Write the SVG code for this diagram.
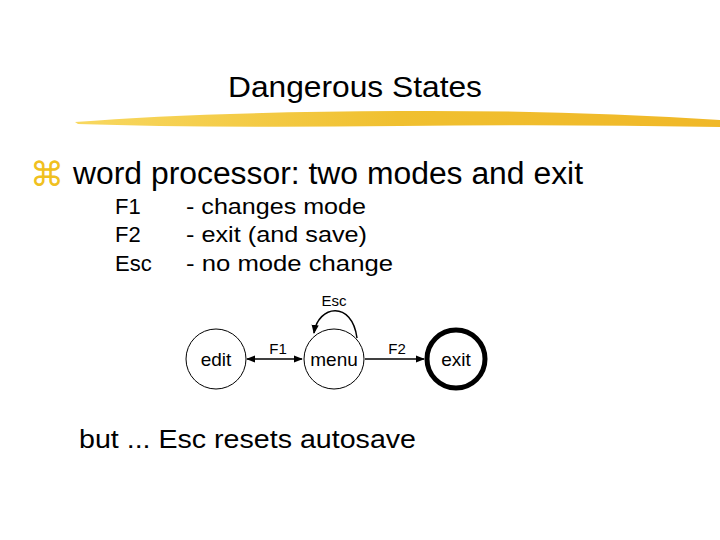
<svg xmlns="http://www.w3.org/2000/svg" width="720" height="540" viewBox="0 0 720 540">
<style>
text{font-family:"Liberation Sans",Arial,sans-serif;fill:#000}
.n{fill:#fff;stroke:#000;stroke-width:1}
.c{fill:none;stroke:#000;stroke-width:1.5}
</style>
<defs>
<marker id="a" viewBox="0 0 10 10" refX="9" refY="5" markerWidth="6" markerHeight="6" orient="auto-start-reverse"><path d="M0,1 L10,5 L0,9 z" fill="#000"/></marker>
<linearGradient id="y" x1="0" x2="1"><stop offset="0" stop-color="#f8d860"/><stop offset="0.5" stop-color="#f0c030"/><stop offset="1" stop-color="#f0b828"/></linearGradient>
</defs>
<rect width="720" height="540" fill="#fff"/>
<text x="228" y="97" font-size="30" textLength="254" lengthAdjust="spacingAndGlyphs">Dangerous States</text>
<path d="M75,122 Q200,112 400,111 Q560,110 720,120 L720,127 Q560,124 400,126 Q200,128 78,124 Z" fill="url(#y)"/>
<text x="30" y="186" font-size="34" style="fill:#f0c020">⌘</text>
<text x="73" y="184" font-size="31" textLength="510" lengthAdjust="spacingAndGlyphs">word processor: two modes and exit</text>
<g font-size="22">
<text x="115" y="214">F1</text><text x="115" y="242">F2</text><text x="115" y="271">Esc</text>
<text x="186" y="214" textLength="180" lengthAdjust="spacingAndGlyphs">- changes mode</text><text x="186" y="242" textLength="181" lengthAdjust="spacingAndGlyphs">- exit (and save)</text><text x="186" y="271" textLength="207" lengthAdjust="spacingAndGlyphs">-  no mode change</text>
</g>
<g id="edges">
<line class="c" x1="247" y1="359" x2="302" y2="359" marker-start="url(#a)" marker-end="url(#a)"/>
<line class="c" x1="365" y1="359" x2="424" y2="359" marker-end="url(#a)"/>
<path class="c" d="M357,338 C352,300 318,305 314,333" marker-end="url(#a)"/>
<text x="334" y="306" font-size="15" text-anchor="middle">Esc</text>
<text x="278" y="354" font-size="15" text-anchor="middle">F1</text>
<text x="397" y="354" font-size="15" text-anchor="middle">F2</text>
</g>
<g id="edit"><circle class="n" cx="216" cy="359" r="30"/><text x="216" y="366" font-size="19" text-anchor="middle">edit</text></g>
<g id="menu"><circle class="n" cx="334" cy="359" r="30"/><text x="334" y="366" font-size="19" text-anchor="middle">menu</text></g>
<g id="exit"><circle class="n" cx="456" cy="359" r="29" style="stroke-width:5"/><text x="456" y="366" font-size="19" text-anchor="middle">exit</text></g>
<text x="79" y="448" font-size="26" textLength="337" lengthAdjust="spacingAndGlyphs">but ...  Esc resets autosave</text>
</svg>
